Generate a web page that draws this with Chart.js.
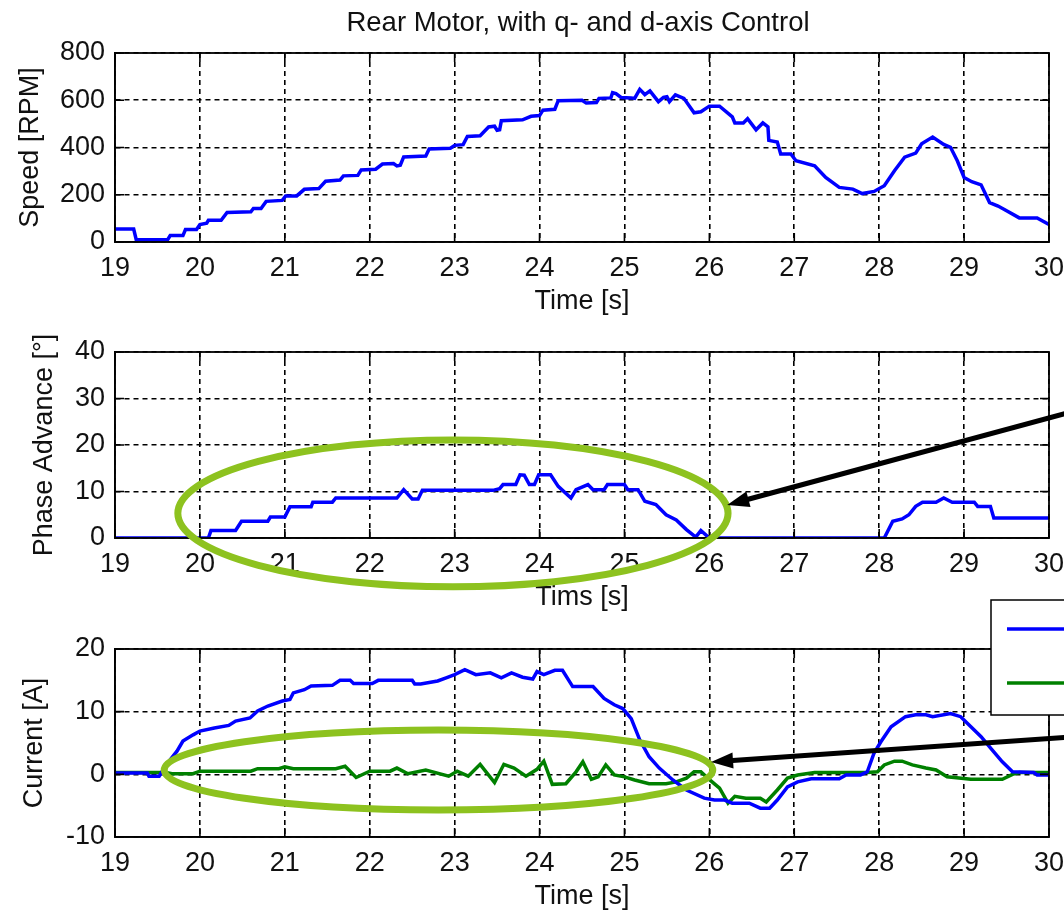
<!DOCTYPE html>
<html>
<head>
<meta charset="utf-8">
<script src="https://cdn.jsdelivr.net/npm/chart.js@4/dist/chart.umd.min.js"></script>
<style>
  body { margin: 0; background: #fff; }
  #wrap { position: relative; width: 1064px; height: 913px; overflow: hidden; }
  #wrap canvas { position: absolute; left: 0; top: 0; }
</style>
</head>
<body>
<div id="wrap">
  <canvas id="speed" width="1064" height="913"></canvas>
  <canvas id="phase" width="1064" height="913"></canvas>
  <canvas id="current" width="1064" height="913"></canvas>
</div>
<script>
// tick labels
const timeTicks = [19, 20, 21, 22, 23, 24, 25, 26, 27, 28, 29, 30];
const speedTicks = [0, 200, 400, 600, 800];
const phaseTicks = [0, 10, 20, 30, 40];
const currentTicks = [-10, 0, 10, 20];

// rear motor speed [RPM]
const speedT = [19.00, 19.22, 19.25, 19.62, 19.65, 19.80, 19.83, 19.96, 20.00, 20.08, 20.10, 20.25, 20.32, 20.60, 20.63, 20.72,
  20.78, 20.97, 21.01, 21.14, 21.23, 21.40, 21.48, 21.65, 21.69, 21.86, 21.90, 22.07, 22.15, 22.28, 22.32, 22.36,
  22.40, 22.66, 22.70, 22.95, 23.00, 23.10, 23.15, 23.30, 23.40, 23.47, 23.50, 23.53, 23.55, 23.80, 23.90, 24.00,
  24.04, 24.18, 24.22, 24.50, 24.55, 24.67, 24.70, 24.84, 24.86, 24.90, 24.96, 25.08, 25.12, 25.18, 25.24, 25.30,
  25.40, 25.46, 25.50, 25.53, 25.60, 25.70, 25.82, 25.90, 26.00, 26.12, 26.27, 26.30, 26.40, 26.45, 26.55, 26.63,
  26.69, 26.70, 26.80, 26.84, 26.96, 27.02, 27.24, 27.37, 27.53, 27.69, 27.80, 27.94, 28.06, 28.18, 28.30, 28.43,
  28.50, 28.63, 28.76, 28.84, 28.92, 29.00, 29.09, 29.20, 29.30, 29.40, 29.49, 29.65, 29.86, 30.00];
const speedV = [55, 55, 10, 10, 27, 27, 53, 53, 74, 80, 92, 92, 125, 128, 142, 142,
  172, 176, 195, 195, 223, 226, 257, 262, 280, 282, 305, 308, 330, 332, 322, 325,
  360, 364, 394, 397, 409, 412, 447, 450, 487, 490, 473, 475, 513, 517, 532, 535,
  558, 562, 598, 600, 588, 590, 608, 610, 632, 628, 612, 610, 608, 646, 624, 640,
  594, 612, 615, 594, 623, 608, 547, 551, 575, 575, 530, 504, 504, 522, 475, 504,
  487, 430, 423, 373, 373, 344, 323, 273, 231, 224, 205, 214, 238, 302, 359, 376,
  416, 444, 413, 401, 344, 273, 255, 242, 167, 152, 134, 102, 102, 74];

// phase advance [deg]
const phaseT = [19.00, 20.10, 20.13, 20.42, 20.49, 20.80, 20.83, 21.00, 21.06, 21.31, 21.33, 21.56, 21.60, 22.32, 22.40, 22.50,
  22.57, 22.62, 23.45, 23.53, 23.57, 23.72, 23.77, 23.82, 23.88, 23.94, 23.99, 24.13, 24.22, 24.37, 24.43, 24.57,
  24.63, 24.76, 24.80, 25.00, 25.04, 25.16, 25.24, 25.37, 25.49, 25.61, 25.73, 25.84, 25.90, 25.98, 26.06, 28.06,
  28.16, 28.27, 28.35, 28.43, 28.51, 28.67, 28.76, 28.86, 29.12, 29.16, 29.31, 29.35, 30.00];
const phaseV = [0, 0, 1.6, 1.6, 3.6, 3.6, 4.5, 4.5, 6.7, 6.7, 7.7, 7.7, 8.6, 8.6, 10.4, 8.4,
  8.4, 10.25, 10.25, 10.6, 11.5, 11.5, 13.6, 13.5, 11.5, 11.5, 13.6, 13.6, 11.1, 8.6, 10.4, 11.5,
  10.4, 10.4, 11.5, 11.5, 10.4, 10.4, 7.9, 7.2, 5.0, 3.9, 1.8, 0.2, 1.6, 0.3, 0, 0,
  3.6, 4.1, 5.0, 6.8, 7.7, 7.7, 8.6, 7.7, 7.7, 6.8, 6.8, 4.3, 4.3];

// q-axis current [A]
const iqT = [19.00, 19.38, 19.40, 19.52, 19.62, 19.73, 19.80, 19.92, 20.00, 20.17, 20.34, 20.42, 20.59, 20.68, 20.80, 20.97,
  21.06, 21.10, 21.23, 21.31, 21.56, 21.65, 21.77, 21.81, 22.03, 22.10, 22.50, 22.53, 22.60, 22.80, 22.90, 23.00,
  23.12, 23.25, 23.42, 23.55, 23.67, 23.80, 23.92, 23.97, 24.05, 24.18, 24.27, 24.39, 24.63, 24.76, 24.88, 24.98,
  25.08, 25.18, 25.29, 25.41, 25.57, 25.73, 25.94, 26.06, 26.18, 26.27, 26.47, 26.60, 26.71, 26.80, 26.92, 27.04,
  27.20, 27.53, 27.61, 27.78, 27.86, 27.94, 28.02, 28.14, 28.31, 28.43, 28.55, 28.63, 28.84, 28.96, 29.08, 29.20,
  29.33, 29.45, 29.57, 29.82, 29.86, 30.00];
const iqV = [0.2, 0.2, -0.3, -0.3, 1.8, 3.7, 5.3, 6.3, 6.9, 7.4, 7.8, 8.5, 9.0, 10.1, 10.9, 11.7,
  11.95, 13.0, 13.5, 14.1, 14.2, 15.0, 15.0, 14.5, 14.5, 15.0, 15.0, 14.4, 14.4, 14.9, 15.4, 15.9,
  16.7, 15.9, 16.2, 15.4, 16.2, 15.5, 15.2, 16.4, 15.9, 16.6, 16.6, 14.0, 14.0, 12.1, 11.1, 10.5,
  8.9, 5.5, 2.8, 1.0, -0.9, -2.5, -3.8, -4.1, -4.1, -4.6, -4.6, -5.4, -5.4, -4.1, -2.0, -1.2,
  -0.7, -0.7, -0.1, -0.1, 0.4, 3.4, 5.2, 7.6, 9.2, 9.5, 9.5, 9.2, 9.7, 9.2, 7.6, 6.0,
  3.9, 2.0, 0.4, 0.3, -0.1, -0.1];

// d-axis current [A]
const idT = [19.00, 19.60, 19.67, 19.92, 20.00, 20.60, 20.68, 20.93, 21.00, 21.10, 21.60, 21.71, 21.84, 22.00, 22.24, 22.32,
  22.45, 22.66, 22.93, 23.03, 23.16, 23.30, 23.47, 23.58, 23.70, 23.84, 23.97, 24.05, 24.15, 24.31, 24.43, 24.51,
  24.61, 24.69, 24.78, 24.88, 25.00, 25.12, 25.29, 25.49, 25.61, 25.73, 25.82, 25.90, 25.98, 26.12, 26.22, 26.30,
  26.43, 26.60, 26.67, 26.80, 26.92, 27.04, 27.24, 27.86, 27.98, 28.06, 28.18, 28.27, 28.39, 28.55, 28.67, 28.80,
  29.08, 29.45, 29.57, 29.65, 30.00];
const idV = [0.3, 0.3, 0.1, 0.1, 0.5, 0.5, 0.9, 0.9, 1.2, 0.9, 0.9, 1.3, -0.5, 0.5, 0.5, 1.0,
  0.1, 0.7, -0.3, 0.5, -0.3, 1.6, -1.3, 1.6, 1.0, -0.3, 0.8, 2.1, -1.6, -1.5, 0.4, 2.0,
  -0.8, -0.4, 1.5, -0.1, -0.4, -0.9, -1.5, -1.5, -1.2, -0.6, 0.4, 0.4, -0.6, -2.2, -4.6, -3.5,
  -3.8, -3.8, -4.4, -2.5, -0.6, -0.1, 0.3, 0.3, 0.4, 1.5, 2.1, 2.1, 1.5, 1.0, 0.7, -0.4,
  -0.8, -0.8, 0, 0.3, 0.3];

const FONT = "'Liberation Sans', Arial, sans-serif";
const INK = '#111';
const BLUE = '#0000ff';
const GREEN = '#008000';
const MARK = '#8dc21f';

const pairs = (t, v) => t.map((x, i) => ({ x: x, y: v[i] }));

// solid frame round the plot area plus short inward ticks on all four sides
const axisBox = {
  id: 'axisBox',
  afterDatasetsDraw(chart) {
    const { ctx, chartArea: a, scales: { x, y } } = chart;
    const len = 9;
    ctx.save();
    ctx.strokeStyle = '#000';
    ctx.lineWidth = 1.6;
    ctx.beginPath();
    x.ticks.forEach(t => {
      const px = x.getPixelForValue(t.value);
      ctx.moveTo(px, a.bottom); ctx.lineTo(px, a.bottom - len);
      ctx.moveTo(px, a.top); ctx.lineTo(px, a.top + len);
    });
    y.ticks.forEach(t => {
      const py = y.getPixelForValue(t.value);
      ctx.moveTo(a.left, py); ctx.lineTo(a.left + len, py);
      ctx.moveTo(a.right, py); ctx.lineTo(a.right - len, py);
    });
    ctx.stroke();
    ctx.lineWidth = 1.8;
    ctx.strokeRect(a.left, a.top, a.right - a.left, a.bottom - a.top);
    ctx.restore();
  }
};

// highlight ellipses, arrows, legend box and figure title
const marks = {
  id: 'marks',
  afterDraw(chart, args, opts) {
    const { ctx, chartArea: a, scales: { x, y } } = chart;
    ctx.save();
    (opts.ellipses || []).forEach(e => {
      const x0 = x.getPixelForValue(e.t0), x1 = x.getPixelForValue(e.t1);
      const y0 = y.getPixelForValue(e.v0), y1 = y.getPixelForValue(e.v1);
      ctx.beginPath();
      ctx.ellipse((x0 + x1) / 2, (y0 + y1) / 2, Math.abs(x1 - x0) / 2, Math.abs(y1 - y0) / 2, 0, 0, Math.PI * 2);
      ctx.strokeStyle = MARK;
      ctx.lineWidth = 7;
      ctx.stroke();
    });
    (opts.arrows || []).forEach(r => {
      const sx = x.getPixelForValue(r.from[0]), sy = y.getPixelForValue(r.from[1]);
      const ex = x.getPixelForValue(r.to[0]), ey = y.getPixelForValue(r.to[1]);
      const ang = Math.atan2(ey - sy, ex - sx);
      const head = 22, half = 8;
      const bx = ex - head * Math.cos(ang), by = ey - head * Math.sin(ang);
      ctx.strokeStyle = '#000';
      ctx.fillStyle = '#000';
      ctx.lineWidth = 5;
      ctx.beginPath();
      ctx.moveTo(sx, sy);
      ctx.lineTo(bx + 4 * Math.cos(ang), by + 4 * Math.sin(ang));
      ctx.stroke();
      ctx.beginPath();
      ctx.moveTo(ex, ey);
      ctx.lineTo(bx + half * Math.sin(ang), by - half * Math.cos(ang));
      ctx.lineTo(bx - half * Math.sin(ang), by + half * Math.cos(ang));
      ctx.closePath();
      ctx.fill();
    });
    if (opts.legend) {
      const lx = a.right - 58, ly = a.top - 49;
      ctx.fillStyle = '#fff';
      ctx.fillRect(lx, ly, 200, 115);
      ctx.strokeStyle = '#000';
      ctx.lineWidth = 1.5;
      ctx.strokeRect(lx, ly, 200, 115);
      ctx.lineWidth = 3.5;
      opts.legend.forEach((c, i) => {
        ctx.strokeStyle = c;
        ctx.beginPath();
        ctx.moveTo(lx + 16, ly + 29 + i * 54);
        ctx.lineTo(lx + 200, ly + 29 + i * 54);
        ctx.stroke();
      });
    }
    if (opts.title) {
      ctx.fillStyle = INK;
      ctx.font = '27.5px ' + FONT;
      ctx.textAlign = 'center';
      ctx.textBaseline = 'middle';
      ctx.fillText(opts.title, (a.left + a.right) / 2 - 4, 23);
    }
    ctx.restore();
  }
};

function panel(id, cfg) {
  const font = { family: FONT, size: 27 };
  return new Chart(document.getElementById(id), {
    type: 'line',
    data: { datasets: cfg.series.map(s => ({
      data: s.data, borderColor: s.color, borderWidth: 3.5, pointRadius: 0, tension: 0, fill: false
    })) },
    options: {
      responsive: false,
      animation: false,
      events: [],
      layout: { padding: { left: 0, right: 15, top: cfg.top, bottom: cfg.bottom } },
      plugins: { legend: { display: false }, tooltip: { enabled: false }, marks: cfg.marks || {} },
      scales: {
        x: {
          type: 'linear', min: 19, max: 30,
          afterBuildTicks: s => { s.ticks = timeTicks.map(v => ({ value: v })); },
          afterFit: s => { s.height = 76; s.paddingLeft = 0; s.paddingRight = 0; },
          ticks: { font: font, color: INK, padding: 10, maxRotation: 0 },
          grid: { color: '#000', lineWidth: 1.6, drawTicks: false },
          border: { color: '#000', width: 1.5, dash: [5, 4] },
          title: { display: true, text: cfg.xTitle, font: font, color: INK, padding: 0 }
        },
        y: {
          min: cfg.yTicks[0], max: cfg.yTicks[cfg.yTicks.length - 1],
          afterBuildTicks: s => { s.ticks = cfg.yTicks.map(v => ({ value: v })); },
          afterFit: s => { s.width = 115; s.paddingTop = 0; s.paddingBottom = 0; },
          ticks: { font: font, color: INK, padding: 10 },
          grid: { color: '#000', lineWidth: 1.6, drawTicks: false },
          border: { color: '#000', width: 1.5, dash: [5, 4] },
          title: { display: true, text: cfg.yTitle, font: font, color: INK, padding: { top: cfg.yTitlePad, bottom: 0 } }
        }
      }
    },
    plugins: [axisBox, marks]
  });
}

panel('speed', {
  top: 53, bottom: 595, xTitle: 'Time [s]', yTitle: 'Speed [RPM]', yTitlePad: 14, yTicks: speedTicks,
  series: [{ data: pairs(speedT, speedV), color: BLUE }],
  marks: { title: 'Rear Motor, with q- and d-axis Control' }
});

panel('phase', {
  top: 352, bottom: 299, xTitle: 'Tims [s]', yTitle: 'Phase Advance [°]', yTitlePad: 28, yTicks: phaseTicks,
  series: [{ data: pairs(phaseT, phaseV), color: BLUE }],
  marks: {
    ellipses: [{ t0: 19.74, t1: 26.22, v0: 21.1, v1: -10.5 }],
    arrows: [{ from: [30.3, 27.3], to: [26.21, 7.1] }]
  }
});

panel('current', {
  top: 649, bottom: 0, xTitle: 'Time [s]', yTitle: 'Current [A]', yTitlePad: 18, yTicks: currentTicks,
  series: [{ data: pairs(iqT, iqV), color: BLUE }, { data: pairs(idT, idV), color: GREEN }],
  marks: {
    ellipses: [{ t0: 19.58, t1: 26.04, v0: 7.07, v1: -5.69 }],
    arrows: [{ from: [30.3, 6.0], to: [26.02, 1.97] }],
    legend: [BLUE, GREEN]
  }
});
</script>
</body>
</html>
